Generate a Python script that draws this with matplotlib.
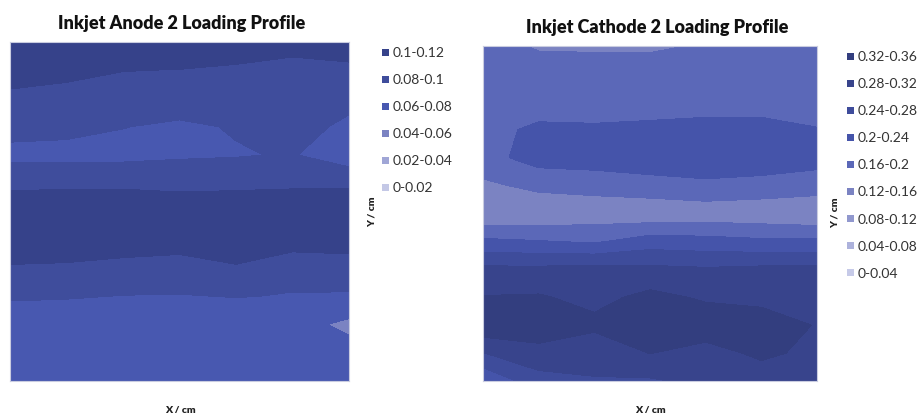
import numpy as np
import matplotlib
matplotlib.use("Agg")
import matplotlib.pyplot as plt
from matplotlib.patches import Rectangle

plt.rcParams['font.family'] = ['Lato', 'DejaVu Sans']

# ---------------- data ----------------
x_pos = [0, 1, 2, 3, 4, 5, 6]
y_pos = [0, 1, 2, 3, 4, 5, 6, 7, 8, 9, 10, 11, 12]   # row 0 = top edge

anode_levels = [0, 0.02, 0.04, 0.06, 0.08, 0.1, 0.12]
anode_labels = ["0-0.02", "0.02-0.04", "0.04-0.06", "0.06-0.08", "0.08-0.1", "0.1-0.12"]
anode_colors = ["#C4C8E6", "#A0A6D6", "#7B83C2", "#4858B0", "#3F4D9C", "#36428A"]
anode_z = [
    [0.115, 0.115, 0.116, 0.115, 0.114, 0.112, 0.113],
    [0.114, 0.106, 0.1005, 0.0995, 0.0963, 0.0894, 0.0947],
    [0.093, 0.092, 0.090, 0.090, 0.091, 0.088, 0.088],
    [0.086, 0.085, 0.0805, 0.0768, 0.0814, 0.0907, 0.074],
    [0.075, 0.074, 0.074, 0.077, 0.0786, 0.0815, 0.0665],
    [0.095, 0.098, 0.098, 0.0966, 0.096, 0.097, 0.0986],
    [0.1135, 0.1075, 0.1075, 0.1076, 0.1114, 0.112, 0.1056],
    [0.114, 0.111, 0.112, 0.112, 0.113, 0.112, 0.111],
    [0.098, 0.0974, 0.0931, 0.0889, 0.098, 0.084, 0.089],
    [0.083, 0.0815, 0.0795, 0.0793, 0.0805, 0.0793, 0.0784],
    [0.065, 0.067, 0.068, 0.069, 0.0705, 0.068, 0.055],
    [0.066, 0.068, 0.068, 0.069, 0.069, 0.068, 0.068],
    [0.066, 0.067, 0.067, 0.068, 0.068, 0.068, 0.068],
]

cathode_levels = [0, 0.04, 0.08, 0.12, 0.16, 0.2, 0.24, 0.28, 0.32, 0.36]
cathode_labels = ["0-0.04", "0.04-0.08", "0.08-0.12", "0.12-0.16", "0.16-0.2",
                  "0.2-0.24", "0.24-0.28", "0.28-0.32", "0.32-0.36"]
cathode_colors = ["#C6CAE8", "#ADB2DC", "#9198CE", "#7B83C2", "#5B68B8",
                  "#4554AA", "#3E4C9B", "#38448C", "#333E7F"]
cathode_z = [
    [0.175, 0.156, 0.154, 0.152, 0.165, 0.17, 0.172],
    [0.18, 0.178, 0.18, 0.185, 0.18, 0.18, 0.182],
    [0.185, 0.185, 0.19, 0.19, 0.19, 0.19, 0.19],
    [0.19, 0.206, 0.203, 0.205, 0.208, 0.208, 0.201],
    [0.185, 0.217, 0.222, 0.225, 0.225, 0.225, 0.215],
    [0.152, 0.17, 0.173, 0.184, 0.192, 0.186, 0.18],
    [0.124, 0.128, 0.137, 0.1307, 0.135, 0.1318, 0.124],
    [0.209, 0.2024, 0.1945, 0.2195, 0.215, 0.208, 0.2077],
    [0.29, 0.29, 0.295, 0.29, 0.285, 0.29, 0.29],
    [0.322, 0.324, 0.308, 0.331, 0.315, 0.31, 0.305],
    [0.351, 0.345, 0.33, 0.345, 0.343, 0.338, 0.318],
    [0.279, 0.3065, 0.29, 0.321, 0.305, 0.328, 0.31],
    [0.205, 0.264, 0.278, 0.275, 0.29, 0.298, 0.3],
]

titles = ["Inkjet Anode 2 Loading Profile", "Inkjet Cathode 2 Loading Profile"]

# ---------------- figure ----------------
W, H = 918, 414
fig = plt.figure(figsize=(W / 100, H / 100), dpi=100)

def fx(px):
    return px / W

def fy(py):
    return 1 - py / H

panels = [
    dict(box=(10, 43, 349, 382), z=anode_z, levels=anode_levels, colors=anode_colors,
         labels=anode_labels, title=titles[0], title_xy=(182, 24),
         leg_x=382, leg_y0=53, leg_dy=27.0, ylab_xy=(372, 212), xlab_xy=(180, 410)),
    dict(box=(483, 47, 817, 382), z=cathode_z, levels=cathode_levels, colors=cathode_colors,
         labels=cathode_labels, title=titles[1], title_xy=(657, 28),
         leg_x=847, leg_y0=57, leg_dy=27.1, ylab_xy=(835, 213), xlab_xy=(650, 410)),
]

for p in panels:
    x0, y0, x1, y1 = p["box"]
    ax = fig.add_axes([fx(x0), fy(y1), fx(x1 - x0), (y1 - y0) / H])
    Z = np.array(p["z"])
    X, Y = np.meshgrid(x_pos, y_pos)
    ax.contourf(X, Y, Z, levels=p["levels"], colors=p["colors"], antialiased=False)
    ax.set_xlim(min(x_pos), max(x_pos))
    ax.set_ylim(max(y_pos), min(y_pos))
    ax.set_xticks([])
    ax.set_yticks([])
    for s in ax.spines.values():
        s.set_color("#C9CCE0")
        s.set_linewidth(0.8)

    fig.text(fx(p["title_xy"][0]), fy(p["title_xy"][1]), p["title"], ha="center", va="center",
             fontsize=13, fontweight="heavy", color="#111111")

    # legend (darkest first)
    n = len(p["labels"])
    for i in range(n):
        k = n - 1 - i
        cy = p["leg_y0"] + i * p["leg_dy"]
        fig.add_artist(Rectangle((fx(p["leg_x"]), fy(cy + 3.5)), 7 / W, 7 / H,
                                 transform=fig.transFigure, facecolor=p["colors"][k],
                                 edgecolor="none"))
        fig.text(fx(p["leg_x"] + 11), fy(cy), p["labels"][k], ha="left", va="center",
                 fontsize=10, color="#333333")

    fig.text(fx(p["ylab_xy"][0]), fy(p["ylab_xy"][1]), "Y / cm", rotation=90, ha="center",
             va="center", fontsize=7.5, fontweight="heavy", color="#222222")
    fig.text(fx(p["xlab_xy"][0]), fy(p["xlab_xy"][1]), "X / cm", ha="center", va="center",
             fontsize=7.5, fontweight="heavy", color="#222222")

fig.savefig("out.png", dpi=100)
